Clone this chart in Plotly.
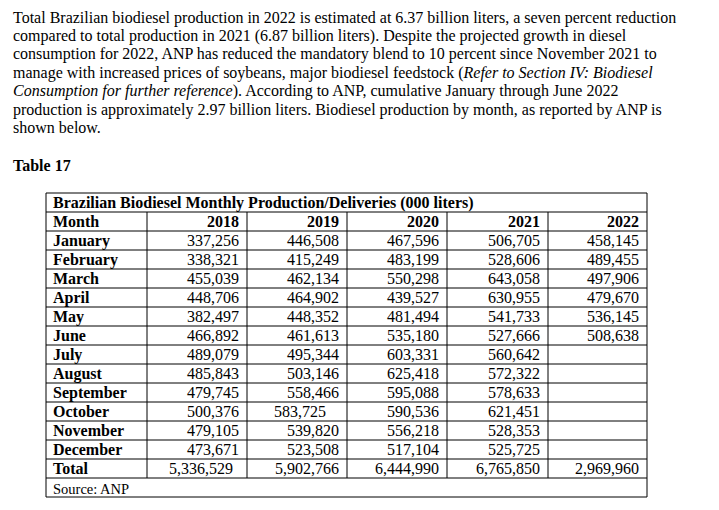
import plotly.graph_objects as go

# ---------------- data ----------------
paragraph_lines = [
    "Total Brazilian biodiesel production in 2022 is estimated at 6.37 billion liters, a seven percent reduction",
    "compared to total production in 2021 (6.87 billion liters). Despite the projected growth in diesel",
    "consumption for 2022, ANP has reduced the mandatory blend to 10 percent since November 2021 to",
    "manage with increased prices of soybeans, major biodiesel feedstock (<i>Refer to Section IV: Biodiesel</i>",
    "<i>Consumption for further reference</i>). According to ANP, cumulative January through June 2022",
    "production is approximately 2.97 billion liters. Biodiesel production by month, as reported by ANP is",
    "shown below.",
]
table_label = "Table 17"
table_title = "Brazilian Biodiesel Monthly Production/Deliveries (000 liters)"
source_note = "Source: ANP"

months = ["January", "February", "March", "April", "May", "June", "July",
          "August", "September", "October", "November", "December"]
years = ["2018", "2019", "2020", "2021", "2022"]

v2018 = [337256, 338321, 455039, 448706, 382497, 466892, 489079, 485843, 479745, 500376, 479105, 473671]
v2019 = [446508, 415249, 462134, 464902, 448352, 461613, 495344, 503146, 558466, 583725, 539820, 523508]
v2020 = [467596, 483199, 550298, 439527, 481494, 535180, 603331, 625418, 595088, 590536, 556218, 517104]
v2021 = [506705, 528606, 643058, 630955, 541733, 527666, 560642, 572322, 578633, 621451, 528353, 525725]
v2022 = [458145, 489455, 497906, 479670, 536145, 508638, None, None, None, None, None, None]
totals = [5336529, 5902766, 6444990, 6765850, 2969960]

series = [v2018, v2019, v2020, v2021, v2022]

# ---------------- layout constants ----------------
W, H = 719, 510
OFF = 8  # page body margin compensation
FONT = "Liberation Serif, Times New Roman, serif"
col_edges = [46, 147, 247, 347, 447, 548, 647]
table_top = 193
title_bottom = 212
row_h = 19.0
n_body_rows = 1 + len(months) + 1  # header + months + total
body_bottom = title_bottom + n_body_rows * row_h
source_bottom = body_bottom + 19
para_y0, para_dy, para_x = 17.5, 18.4, 12

fig = go.Figure()
fig.add_trace(go.Scatter(x=[OFF, W], y=[OFF, H], mode="markers",
                         marker=dict(opacity=0), hoverinfo="skip", showlegend=False))

ann = []
def add_text(x, y, text, anchor="left", bold=False, size=16):
    t = f"<b>{text}</b>" if bold else text
    ann.append(dict(x=x, y=y, xref="x", yref="y", text=t, showarrow=False,
                    xanchor=anchor, yanchor="middle",
                    font=dict(family=FONT, size=size, color="black")))

# paragraph
for i, line in enumerate(paragraph_lines):
    add_text(para_x - 1, para_y0 + i * para_dy, line)

add_text(para_x - 1, 165, table_label, bold=True)

# table title
add_text(col_edges[0] + 5, (table_top + title_bottom) / 2, table_title, bold=True)

def row_center(r):
    return title_bottom + r * row_h + row_h / 2

# header row
add_text(col_edges[0] + 5, row_center(0), "Month", bold=True)
for j, yr in enumerate(years):
    add_text(col_edges[j + 2] - 6, row_center(0), yr, anchor="right", bold=True)

# month rows
for i, m in enumerate(months):
    add_text(col_edges[0] + 5, row_center(i + 1), m, bold=True)
    for j, s in enumerate(series):
        v = s[i]
        if v is None:
            continue
        txt = f"{v:,}"
        if years[j] == "2019" and m == "October":
            add_text((col_edges[j + 1] + col_edges[j + 2]) / 2 + 3, row_center(i + 1), txt, anchor="center")
        else:
            add_text(col_edges[j + 2] - 6, row_center(i + 1), txt, anchor="right")

# total row
tr = len(months) + 1
add_text(col_edges[0] + 5, row_center(tr), "Total", bold=True)
for j, t in enumerate(totals):
    off = 12 if years[j] == "2018" else 6
    add_text(col_edges[j + 2] - off, row_center(tr), f"{t:,}", anchor="right")

# source
add_text(col_edges[0] + 5, (body_bottom + source_bottom) / 2 + 1, source_note, size=14.5)

# ---------------- lines ----------------
shapes = []
line = dict(color="black", width=1)
shapes.append(dict(type="rect", xref="x", yref="y", x0=col_edges[0], x1=col_edges[-1],
                   y0=table_top, y1=source_bottom, line=line))
for r in range(n_body_rows + 1):
    yy = title_bottom + r * row_h
    shapes.append(dict(type="line", xref="x", yref="y", x0=col_edges[0], x1=col_edges[-1],
                       y0=yy, y1=yy, line=line))
for xe in col_edges[1:-1]:
    shapes.append(dict(type="line", xref="x", yref="y", x0=xe, x1=xe,
                       y0=title_bottom, y1=body_bottom, line=line))

fig.update_layout(
    width=W, height=H,
    margin=dict(l=0, r=0, t=0, b=0),
    paper_bgcolor="white", plot_bgcolor="white",
    xaxis=dict(range=[OFF, W + OFF], visible=False, fixedrange=True),
    yaxis=dict(range=[H + OFF, OFF], visible=False, fixedrange=True),
    annotations=ann, shapes=shapes, showlegend=False,
)

fig.write_html("out.html", config={"displayModeBar": False})
